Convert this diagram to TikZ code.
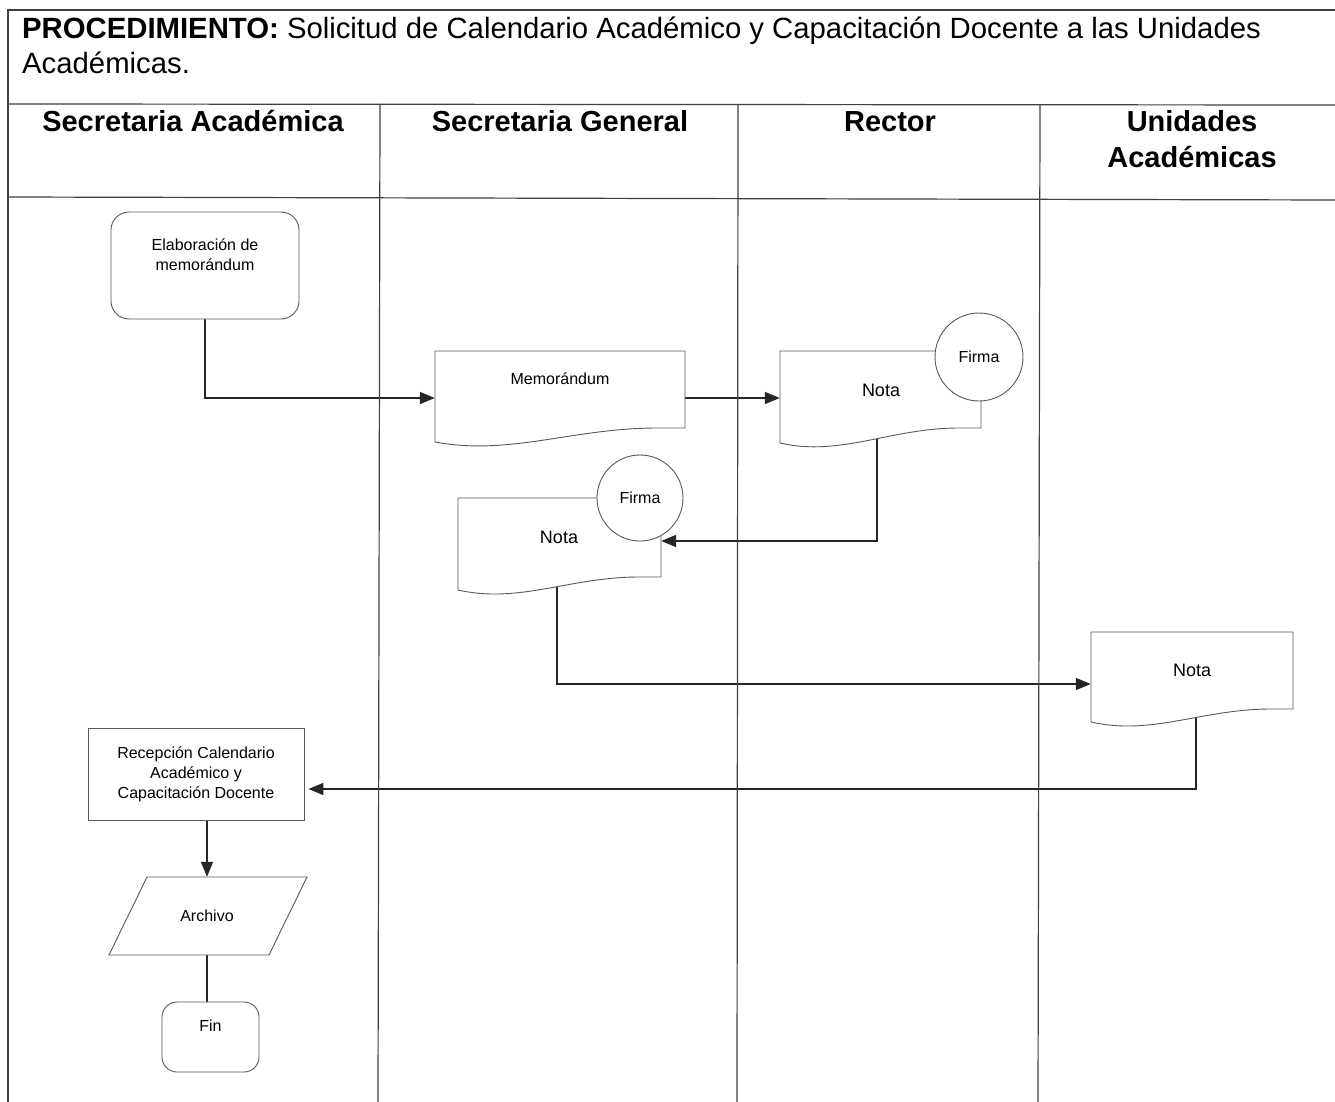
\documentclass[tikz,border=0pt]{standalone}
\usepackage{fontspec}
\setmainfont{Liberation Sans}
\usetikzlibrary{arrows.meta,shapes.geometric,calc}
\pgfdeclarelayer{bg}
\pgfsetlayers{bg,main}
\newcommand\docpath[5]{%
  \draw[shapeline] (#1,#2) -- (#3,#2) -- (#3,#4) -- ({#3-0.11*(#3-#1)},#4)
    .. controls ({#1+0.55*(#3-#1)},#4) and ({#1+0.3*(#3-#1)},{#5+14}) .. (#1,#5) -- cycle;}
\begin{document}
\begin{tikzpicture}[x=1pt,y=-1pt,
  tabline/.style={line width=1.2pt,draw=black!75},
  shapeline/.style={line width=0.9pt,draw=black!65,fill=white},
  conn/.style={line width=1.6pt,draw=black!85,-{Triangle[length=15pt,width=12pt]}},
  plainconn/.style={line width=1.6pt,draw=black!85},
  smalltxt/.style={font=\fontsize{16}{20}\selectfont,align=center,inner sep=0pt},
  notatxt/.style={font=\fontsize{18}{22}\selectfont,inner sep=0pt},
  headtxt/.style={font=\bfseries\fontsize{29}{36}\selectfont,anchor=base,inner sep=0pt},
  titletxt/.style={font=\fontsize{29.3}{33}\selectfont,anchor=base west,inner sep=0pt},
  docbox/.style={draw=none,inner sep=0pt,rectangle}]
\useasboundingbox (0,0) rectangle (1335,1102);
\begin{pgfonlayer}{bg}
\fill[white] (0,0) rectangle (1335,1102);
\end{pgfonlayer}

% table
\draw[tabline] (8,1102) -- (8,10) -- (1335,10);
\draw[tabline] (8,104) -- (1335,105);
\draw[tabline] (8,197) -- (1335,200);
\draw[tabline] (380,104) -- (378,1102);
\draw[tabline] (738,105) -- (737,1102);
\draw[tabline] (1040,105) -- (1038,1102);

% title
\node[titletxt] (title1) at (22,39) {\textbf{PROCEDIMIENTO:} Solicitud de Calendario Académico y Capacitación Docente a las Unidades};
\node[titletxt] (title2) at (22,74) {Académicas.};

% lane headers
\node[headtxt] (h1) at (193,132) {Secretaria Académica};
\node[headtxt] (h2) at (560,132) {Secretaria General};
\node[headtxt] (h3) at (890,132) {Rector};
\node[headtxt] (h4a) at (1192,132) {Unidades};
\node[headtxt] (h4b) at (1192,168) {Académicas};

% Elaboración
\node[shapeline,rectangle,rounded corners=18pt,minimum width=188pt,minimum height=107pt] (elab) at (205,265.5) {};
\node[smalltxt] (elabtxt) at (205,255) {Elaboración de\\memorándum};

% Memorándum document
\docpath{435}{351}{685}{428}{442}
\node[docbox,minimum width=250pt,minimum height=94pt] (memo) at (560,398) {};
\node[smalltxt] (memotxt) at (560,379) {Memorándum};

% Nota (Rector)
\docpath{780}{351}{981}{428}{443}
\node[docbox,minimum width=201pt,minimum height=94pt] (nota1) at (880.5,398) {};
\node[notatxt] (nota1txt) at (881,390) {Nota};
\node[shapeline,circle,minimum size=88pt,inner sep=0pt,font=\fontsize{16}{20}\selectfont] (firma1) at (979,357) {Firma};

% Nota (Secretaria General)
\docpath{458}{498}{661}{577}{590}
\node[docbox,minimum width=203pt,minimum height=86pt] (nota2) at (559.5,541) {};
\node[notatxt] (nota2txt) at (559,537) {Nota};
\node[shapeline,circle,minimum size=86pt,inner sep=0pt,font=\fontsize{16}{20}\selectfont] (firma2) at (640,498) {Firma};

% Nota (Unidades)
\docpath{1091}{632}{1293}{709}{722}
\node[docbox,minimum width=202pt,minimum height=104pt] (nota3) at (1192,684) {};
\node[notatxt] (nota3txt) at (1192,670) {Nota};

% Recepción
\node[shapeline,rectangle,minimum width=216pt,minimum height=92pt,smalltxt] (recep) at (196,774) {Recepción Calendario\\Académico y\\Capacitación Docente};

% Archivo
\draw[shapeline] (147,877) -- (307,877) -- (269,955) -- (109,955) -- cycle;
\node[docbox,minimum width=160pt,minimum height=78pt,font=\fontsize{16}{20}\selectfont] (arch) at (207,916) {Archivo};

% Fin
\node[shapeline,rectangle,rounded corners=15pt,minimum width=97pt,minimum height=70pt] (fin) at (210.5,1037) {};
\node[smalltxt] (fintxt) at (210.5,1026) {Fin};

% connectors
\begin{pgfonlayer}{bg}
\draw[conn] (elab.south) |- (memo.west);
\draw[conn] (memo.east) -- (nota1.west);
\draw[conn] ([xshift=-3.5pt]nota1.center) |- (nota2.east);
\draw[conn] ([xshift=-2.5pt]nota2.center) |- (nota3.west);
\draw[conn,shorten >=4pt] ([xshift=4pt]nota3.center) |- ([yshift=-15pt]recep.east);
\draw[conn] (recep.south -| arch.north) -- (arch.north);
\draw[plainconn] (arch.south) -- (arch.south |- fin.north);
\end{pgfonlayer}
\end{tikzpicture}
\end{document}
